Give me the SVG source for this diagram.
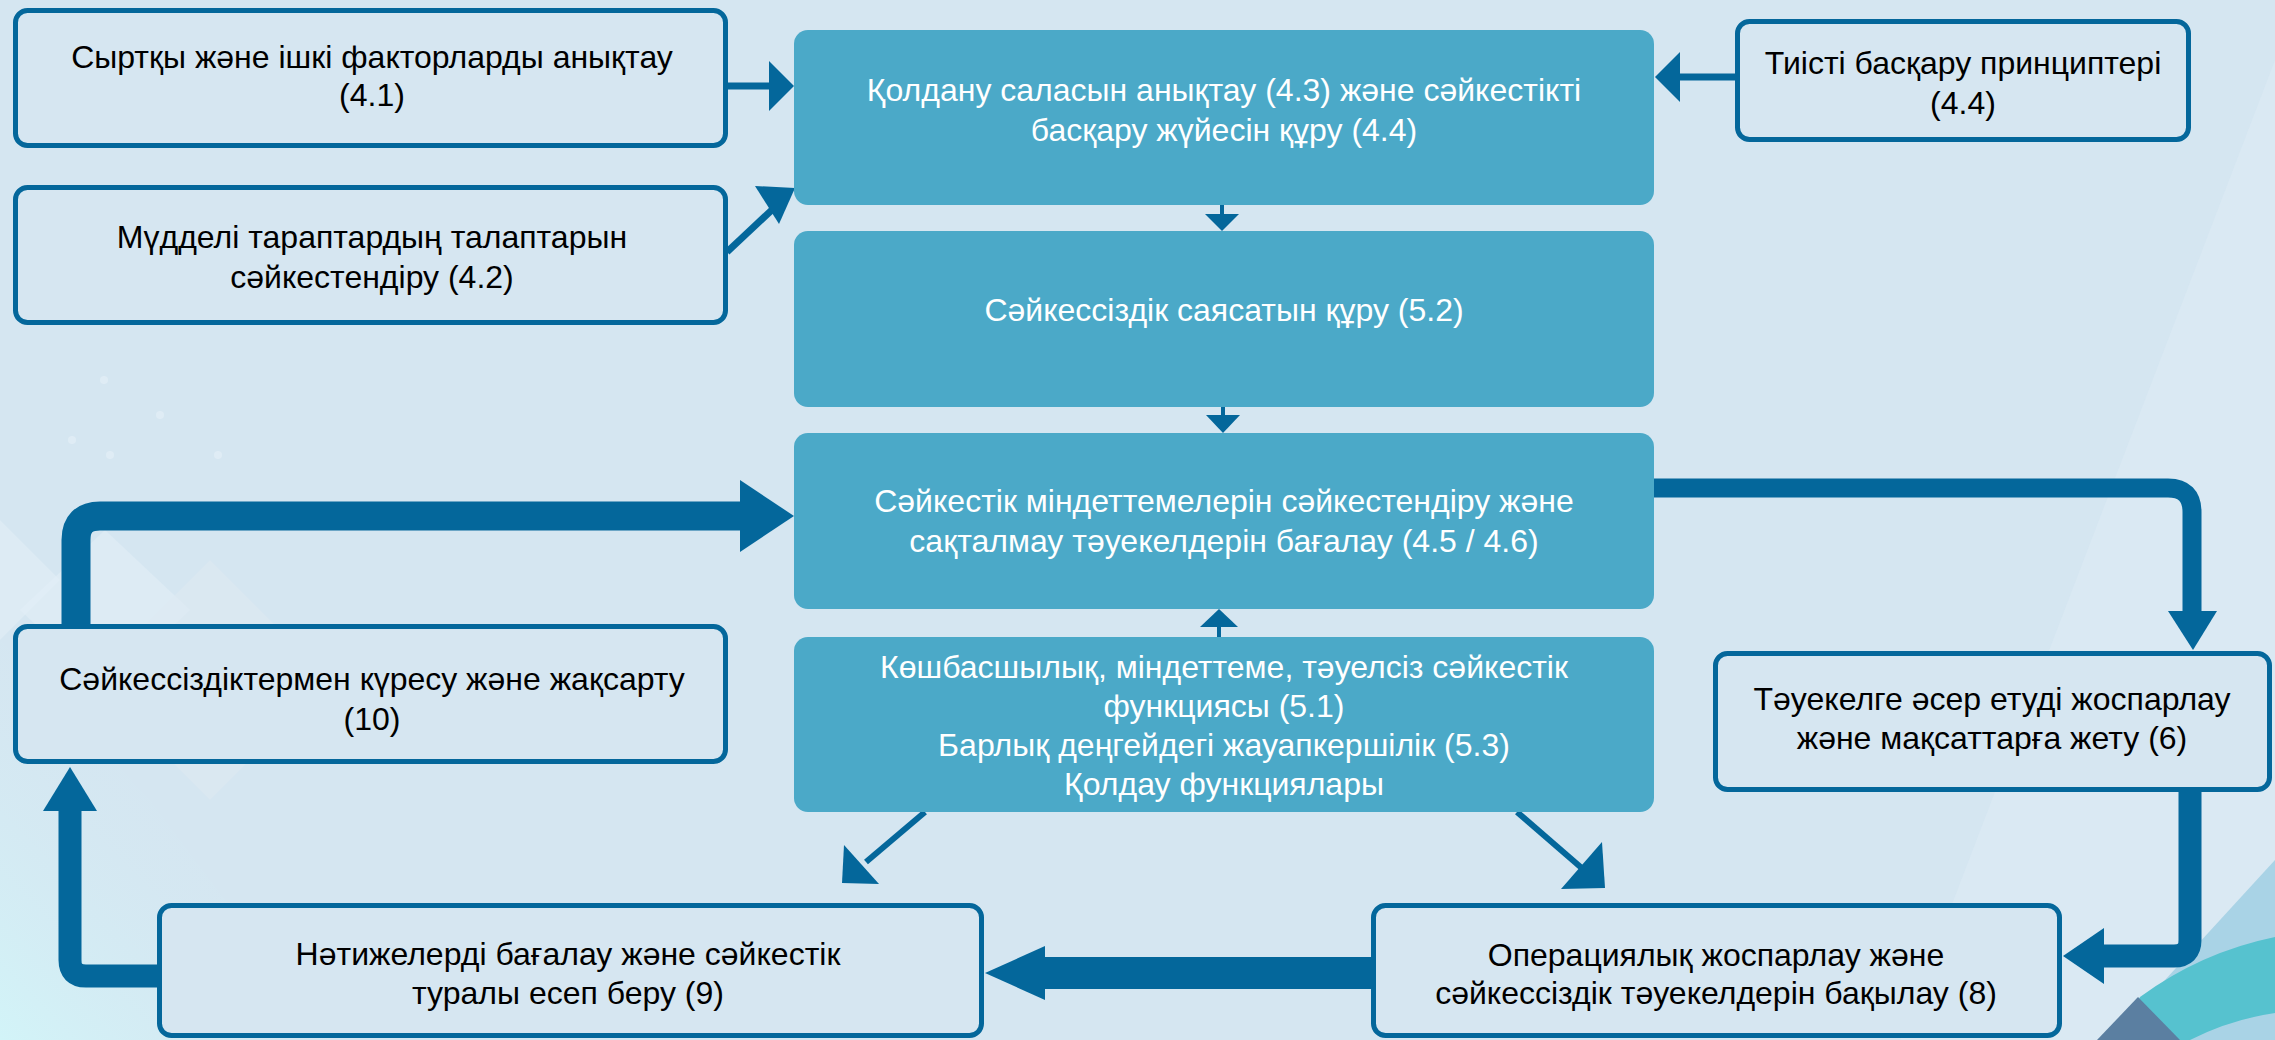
<svg xmlns="http://www.w3.org/2000/svg" width="2275" height="1040" viewBox="0 0 2275 1040">
  <defs>
    <linearGradient id="bgL" x1="0" y1="1" x2="0.6" y2="0.3">
      <stop offset="0" stop-color="#d2f4f8"/>
      <stop offset="1" stop-color="#d5e6f1" stop-opacity="0"/>
    </linearGradient>
    <style>
      .bx { fill: #d6e6f1; stroke: #04679b; stroke-width: 5; }
      .mb { fill: #4ba9c8; }
      .tk { font-family: "Liberation Sans", Arial, sans-serif; font-size: 32px; fill: #000000; text-anchor: middle; }
      .tw { font-family: "Liberation Sans", Arial, sans-serif; font-size: 32px; fill: #ffffff; text-anchor: middle; }
      .ln { fill: none; stroke: #04679b; }
      .hd { fill: #04679b; }
      .dot { fill: #dfecf5; }
    </style>
  </defs>

  <g id="background">
    <rect x="0" y="0" width="2275" height="1040" fill="#d5e6f1"/>
    <polygon points="2275,60 2275,1040 1900,1040" fill="#dbe9f3" opacity="0.7"/>
    <polygon points="0,640 0,1040 330,1040 150,800" fill="url(#bgL)"/>
    <polygon points="105,530 190,610 105,690 20,610" fill="#e2eef6" opacity="0.6"/>
    <polygon points="210,560 330,680 210,800 90,680" fill="#dde9f2" opacity="0.6"/>
    <polygon points="0,520 60,580 0,640" fill="#e2eef6" opacity="0.6"/>
    <circle class="dot" cx="72" cy="440" r="4"/>
    <circle class="dot" cx="104" cy="380" r="4"/>
    <circle class="dot" cx="110" cy="455" r="4"/>
    <circle class="dot" cx="160" cy="415" r="4"/>
    <circle class="dot" cx="218" cy="455" r="4"/>
    <polygon points="2275,860 2275,1040 2110,1040" fill="#a9d3e6"/>
    <path d="M2140,997 A345,345 0 0 1 2275,937 L2275,1013 A275,275 0 0 0 2190,1040 L2118,1040 Z" fill="#56c2cf"/>
    <polygon points="2097,1040 2138,997 2180,1040" fill="#5b7fa1"/>
  </g>

  <g id="connectors">
    <!-- 4.1 -> scope -->
    <line class="ln" x1="727" y1="86" x2="771" y2="86" stroke-width="7"/>
    <polygon class="hd" points="769,61 794,86 769,111"/>
    <!-- 4.2 -> scope -->
    <line class="ln" x1="727" y1="252" x2="775" y2="207" stroke-width="7"/>
    <polygon class="hd" points="755,186 795,188 779,224"/>
    <!-- 4.4 principles -> scope -->
    <line class="ln" x1="1735" y1="77" x2="1678" y2="77" stroke-width="7"/>
    <polygon class="hd" points="1680,52 1655,77 1680,102"/>
    <!-- A -> B -->
    <line class="ln" x1="1222" y1="205" x2="1222" y2="216" stroke-width="4"/>
    <polygon class="hd" points="1205,214 1239,214 1222,231"/>
    <!-- B -> C -->
    <line class="ln" x1="1223" y1="407" x2="1223" y2="417" stroke-width="4"/>
    <polygon class="hd" points="1206,415 1240,415 1223,433"/>
    <!-- D -> C -->
    <line class="ln" x1="1219" y1="637" x2="1219" y2="625" stroke-width="4"/>
    <polygon class="hd" points="1200,627 1238,627 1219,609"/>
    <!-- D -> 9 -->
    <line class="ln" x1="925" y1="812" x2="866" y2="862" stroke-width="6"/>
    <polygon class="hd" points="844,845 842,883 879,884"/>
    <!-- D -> 8 -->
    <line class="ln" x1="1517" y1="812" x2="1584" y2="870" stroke-width="6"/>
    <polygon class="hd" points="1602,842 1605,888 1561,889"/>
    <!-- 10 -> C (thick) -->
    <path class="ln" d="M76,626 V540 Q76,516 100,516 H742" stroke-width="29"/>
    <polygon class="hd" points="740,480 794,516 740,552"/>
    <!-- C -> 6 (thick) -->
    <path class="ln" d="M1654,488 H2168 Q2192,488 2192,512 V613" stroke-width="19"/>
    <polygon class="hd" points="2168,611 2217,611 2193,650"/>
    <!-- 6 -> 8 (thick) -->
    <path class="ln" d="M2190,792 V940 Q2190,956 2174,956 H2102" stroke-width="23"/>
    <polygon class="hd" points="2104,928 2063,956 2104,984"/>
    <!-- 8 -> 9 (thick) -->
    <line class="ln" x1="1371" y1="973" x2="1043" y2="973" stroke-width="32"/>
    <polygon class="hd" points="1045,946 985,973 1045,1000"/>
    <!-- 9 -> 10 (thick) -->
    <path class="ln" d="M157,976 H86 Q70,976 70,960 V809" stroke-width="23"/>
    <polygon class="hd" points="43,811 97,811 70,767"/>
  </g>

  <g id="n41">
    <rect class="bx" x="15.5" y="10.5" width="710" height="135" rx="12"/>
    <text class="tk" x="372" y="68">Сыртқы және ішкі факторларды анықтау</text>
    <text class="tk" x="372" y="106">(4.1)</text>
  </g>
  <g id="n42">
    <rect class="bx" x="15.5" y="187.5" width="710" height="135" rx="12"/>
    <text class="tk" x="372" y="248">Мүдделі тараптардың талаптарын</text>
    <text class="tk" x="372" y="288">сәйкестендіру (4.2)</text>
  </g>
  <g id="n44p">
    <rect class="bx" x="1737.5" y="21.5" width="451" height="118" rx="12"/>
    <text class="tk" x="1963" y="74">Тиісті басқару принциптері</text>
    <text class="tk" x="1963" y="114">(4.4)</text>
  </g>
  <g id="nA">
    <rect class="mb" x="794" y="30" width="860" height="175" rx="14"/>
    <text class="tw" x="1224" y="101">Қолдану саласын анықтау (4.3) және сәйкестікті</text>
    <text class="tw" x="1224" y="141">басқару жүйесін құру (4.4)</text>
  </g>
  <g id="nB">
    <rect class="mb" x="794" y="231" width="860" height="176" rx="14"/>
    <text class="tw" x="1224" y="321">Сәйкессіздік саясатын құру (5.2)</text>
  </g>
  <g id="nC">
    <rect class="mb" x="794" y="433" width="860" height="176" rx="14"/>
    <text class="tw" x="1224" y="512">Сәйкестік міндеттемелерін сәйкестендіру және</text>
    <text class="tw" x="1224" y="552">сақталмау тәуекелдерін бағалау (4.5 / 4.6)</text>
  </g>
  <g id="nD">
    <rect class="mb" x="794" y="637" width="860" height="175" rx="14"/>
    <text class="tw" x="1224" y="678">Көшбасшылық, міндеттеме, тәуелсіз сәйкестік</text>
    <text class="tw" x="1224" y="717">функциясы (5.1)</text>
    <text class="tw" x="1224" y="756">Барлық деңгейдегі жауапкершілік (5.3)</text>
    <text class="tw" x="1224" y="795">Қолдау функциялары</text>
  </g>
  <g id="n10">
    <rect class="bx" x="15.5" y="626.5" width="710" height="135" rx="12"/>
    <text class="tk" x="372" y="690">Сәйкессіздіктермен күресу және жақсарту</text>
    <text class="tk" x="372" y="730">(10)</text>
  </g>
  <g id="n6">
    <rect class="bx" x="1715.5" y="653.5" width="554" height="136" rx="12"/>
    <text class="tk" x="1992" y="710">Тәуекелге әсер етуді жоспарлау</text>
    <text class="tk" x="1992" y="749">және мақсаттарға жету (6)</text>
  </g>
  <g id="n9">
    <rect class="bx" x="159.5" y="905.5" width="822" height="130" rx="12"/>
    <text class="tk" x="568" y="965">Нәтижелерді бағалау және сәйкестік</text>
    <text class="tk" x="568" y="1004">туралы есеп беру (9)</text>
  </g>
  <g id="n8">
    <rect class="bx" x="1373.5" y="905.5" width="686" height="130" rx="12"/>
    <text class="tk" x="1716" y="966">Операциялық жоспарлау және</text>
    <text class="tk" x="1716" y="1004">сәйкессіздік тәуекелдерін бақылау (8)</text>
  </g>
</svg>
